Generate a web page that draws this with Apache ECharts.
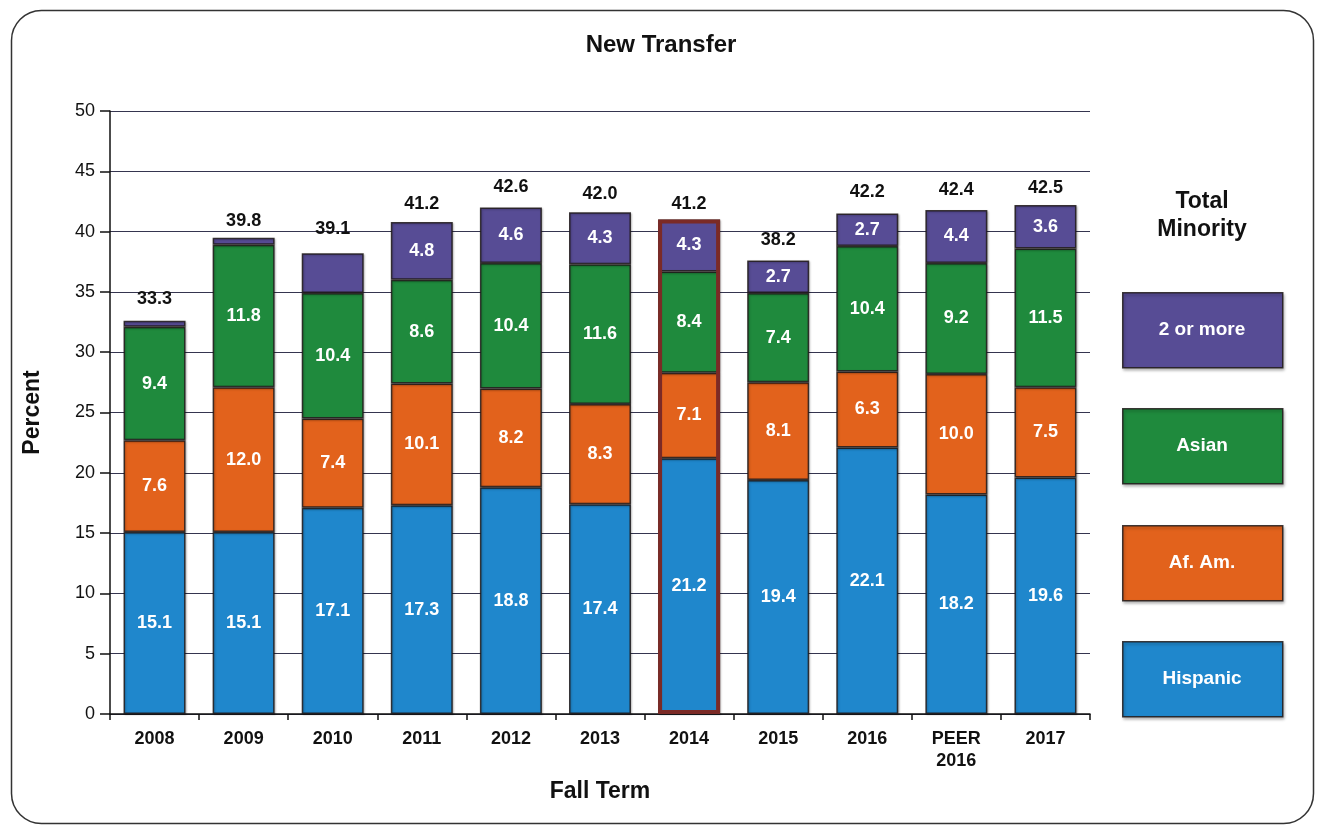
<!DOCTYPE html>
<html>
<head>
<meta charset="utf-8">
<title>New Transfer</title>
<script src="https://cdn.jsdelivr.net/npm/echarts@6/dist/echarts.min.js"></script>
<style>
    html, body { margin: 0; padding: 0; background: #ffffff; }
    #main { width: 1322px; height: 825px; }
</style>
</head>
<body>
<div id="main"></div>
<script>
// data
var years = ['2008', '2009', '2010', '2011', '2012', '2013', '2014', '2015', '2016', 'PEER\n2016', '2017'];
var hispanic = [15.1, 15.1, 17.1, 17.3, 18.8, 17.4, 21.2, 19.4, 22.1, 18.2, 19.6];
var afAm = [7.6, 12.0, 7.4, 10.1, 8.2, 8.3, 7.1, 8.1, 6.3, 10.0, 7.5];
var asian = [9.4, 11.8, 10.4, 8.6, 10.4, 11.6, 8.4, 7.4, 10.4, 9.2, 11.5];
var twoOrMore = [0.5, 0.6, 3.3, 4.8, 4.6, 4.3, 4.3, 2.7, 2.7, 4.4, 3.6];
var twoOrMoreShown = [false, false, false, true, true, true, true, true, true, true, true];
var totals = [33.3, 39.8, 39.1, 41.2, 42.6, 42.0, 41.2, 38.2, 42.2, 42.4, 42.5];
var highlightYear = '2014';
var yTicks = [0, 5, 10, 15, 20, 25, 30, 35, 40, 45, 50];

var font = 'Liberation Sans, Arial, sans-serif';
var colors = {
    hispanic: '#1f87cc',
    afAm: '#e2621c',
    asian: '#1f8a3d',
    two: '#574c95'
};

(function () {
    var myChart = echarts.init(document.getElementById('main'));

    function segLabel() {
        return {
            show: true,
            position: 'inside',
            color: '#ffffff',
            fontFamily: font,
            fontWeight: 'bold',
            fontSize: 18,
            formatter: function (p) { return p.value.toFixed(1); }
        };
    }

    function segStyle(c) {
        return {
            color: c,
            borderColor: 'rgba(30, 25, 25, 0.85)',
            borderWidth: 1.5,
            shadowColor: 'rgba(0, 0, 0, 0.25)',
            shadowBlur: 2,
            shadowOffsetX: 1,
            shadowOffsetY: 1
        };
    }

    var twoData = twoOrMore.map(function (v, i) {
        return { value: v, label: { show: twoOrMoreShown[i] } };
    });

    // outline for the highlighted year (sum of its stack)
    var hiIdx = years.indexOf(highlightYear);
    var outline = years.map(function (y, i) {
        return i === hiIdx ? hispanic[i] + afAm[i] + asian[i] + twoOrMore[i] : null;
    });

    // legend boxes
    var legendItems = [
        { name: '2 or more', color: colors.two, top: 292 },
        { name: 'Asian', color: colors.asian, top: 408 },
        { name: 'Af. Am.', color: colors.afAm, top: 525 },
        { name: 'Hispanic', color: colors.hispanic, top: 641 }
    ];
    var graphics = [
        {
            type: 'rect',
            left: 9, top: 8,
            shape: { width: 1302, height: 813, r: 30 },
            style: { fill: 'none', stroke: '#333333', lineWidth: 1.5 },
            silent: true
        },
        {
            type: 'text',
            x: 1202, y: 188,
            style: {
                text: 'Total\nMinority',
                fill: '#111111',
                font: 'bold 23px ' + font,
                align: 'center',
                lineHeight: 28
            }
        }
    ];
    legendItems.forEach(function (it) {
        graphics.push({
            type: 'rect',
            left: 1122, top: it.top,
            shape: { width: 160, height: 75 },
            style: {
                fill: it.color,
                stroke: 'rgba(30, 25, 25, 0.85)',
                lineWidth: 1.5,
                shadowColor: 'rgba(0,0,0,0.3)',
                shadowBlur: 3,
                shadowOffsetX: 1,
                shadowOffsetY: 2
            }
        });
        graphics.push({
            type: 'text',
            x: 1202, y: it.top + 38,
            style: {
                text: it.name,
                fill: '#ffffff',
                font: 'bold 19px ' + font,
                align: 'center',
                verticalAlign: 'middle'
            }
        });
    });

    var option = {
        animation: false,
        backgroundColor: '#ffffff',
        title: {
            text: 'New Transfer',
            left: 'center',
            top: 28,
            textStyle: {
                color: '#111111',
                fontFamily: font,
                fontWeight: 'bold',
                fontSize: 24
            }
        },
        grid: {
            left: 110,
            right: 232,
            top: 111,
            bottom: 111
        },
        xAxis: {
            type: 'category',
            data: years,
            name: 'Fall Term',
            nameLocation: 'middle',
            nameGap: 66,
            nameTextStyle: {
                color: '#111111',
                fontFamily: font,
                fontWeight: 'bold',
                fontSize: 23
            },
            axisLine: { lineStyle: { color: '#111111', width: 1.5 } },
            axisTick: { show: true, length: 6, lineStyle: { color: '#111111', width: 1.5 } },
            axisLabel: {
                interval: 0,
                margin: 14,
                color: '#111111',
                fontFamily: font,
                fontWeight: 'bold',
                fontSize: 18,
                lineHeight: 22
            }
        },
        yAxis: {
            type: 'value',
            min: 0,
            max: 50,
            interval: 5,
            name: 'Percent',
            nameLocation: 'middle',
            nameGap: 66,
            nameTextStyle: {
                color: '#111111',
                fontFamily: font,
                fontWeight: 'bold',
                fontSize: 23
            },
            axisLine: { show: true, lineStyle: { color: '#111111', width: 1.5 } },
            axisTick: { show: true, length: 10, lineStyle: { color: '#111111', width: 1.5 } },
            axisLabel: {
                margin: 15,
                color: '#111111',
                fontFamily: font,
                fontSize: 18,
                formatter: function (v) { return yTicks.indexOf(v) >= 0 ? String(v) : ''; }
            },
            splitLine: {
                show: true,
                lineStyle: { color: '#35354f', width: 1.2 }
            }
        },
        series: [
            {
                name: 'Hispanic',
                type: 'bar',
                stack: 'minority',
                barWidth: 62,
                itemStyle: segStyle(colors.hispanic),
                label: segLabel(),
                data: hispanic
            },
            {
                name: 'Af. Am.',
                type: 'bar',
                stack: 'minority',
                itemStyle: segStyle(colors.afAm),
                label: segLabel(),
                data: afAm
            },
            {
                name: 'Asian',
                type: 'bar',
                stack: 'minority',
                itemStyle: segStyle(colors.asian),
                label: segLabel(),
                data: asian
            },
            {
                name: '2 or more',
                type: 'bar',
                stack: 'minority',
                itemStyle: segStyle(colors.two),
                label: segLabel(),
                data: twoData
            },
            {
                name: 'outline',
                type: 'bar',
                barWidth: 62,
                barGap: '-100%',
                z: 5,
                silent: true,
                itemStyle: {
                    color: 'rgba(0,0,0,0)',
                    borderColor: '#7b2a26',
                    borderWidth: 4
                },
                data: outline
            },
            {
                name: 'Total',
                type: 'scatter',
                symbolSize: 0,
                itemStyle: { opacity: 1 },
                label: {
                    show: true,
                    position: 'top',
                    distance: 4,
                    color: '#111111',
                    fontFamily: font,
                    fontWeight: 'bold',
                    fontSize: 18,
                    formatter: function (p) { return p.value.toFixed(1); }
                },
                data: totals
            }
        ],
        graphic: graphics
    };

    myChart.setOption(option);

    window.addEventListener('resize', function () {
        myChart.resize();
    });
})();
</script>
</body>
</html>
